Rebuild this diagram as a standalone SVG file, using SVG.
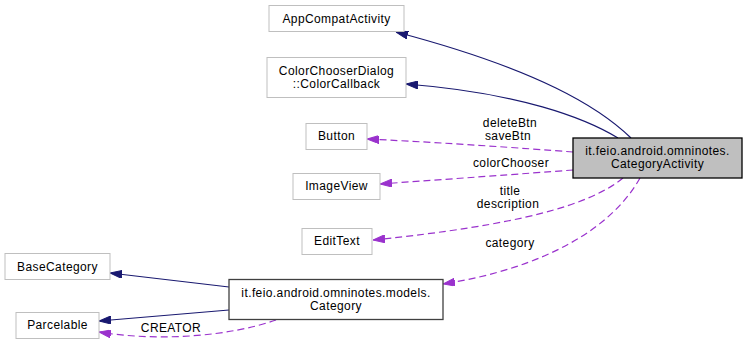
<svg xmlns="http://www.w3.org/2000/svg" width="747" height="344" viewBox="0 0 747 344">
  <style>
    text { font-family: "Liberation Sans", Arial, Helvetica, sans-serif; font-size: 12px; letter-spacing: 0.4px; fill: #000; text-anchor: middle; }
    .ext rect { fill: #fff; stroke: #bfbfbf; stroke-width: 1; }
    .doc rect { fill: #fff; stroke: #404040; stroke-width: 1.3; }
    .main rect { fill: #bfbfbf; stroke: #000; stroke-width: 1.3; }
    .inherit { fill: none; stroke: #191970; stroke-width: 1.2; marker-end: url(#arrowNavy); }
    .usage { fill: none; stroke: #9a32cd; stroke-width: 1.2; stroke-dasharray: 7 4; marker-end: url(#arrowPurple); }
  </style>
  <defs>
    <marker id="arrowNavy" viewBox="0 0 12 8" refX="12" refY="4" markerWidth="12" markerHeight="8" markerUnits="userSpaceOnUse" orient="auto">
      <path d="M0,0 L12,4 L0,8 z" fill="#191970" stroke="#191970" stroke-width="1"/>
    </marker>
    <marker id="arrowPurple" viewBox="0 0 12 8" refX="12" refY="4" markerWidth="12" markerHeight="8" markerUnits="userSpaceOnUse" orient="auto">
      <path d="M0,0 L12,4 L0,8 z" fill="#9a32cd" stroke="#9a32cd" stroke-width="1"/>
    </marker>
  </defs>
  <rect width="747" height="344" fill="#fff"/>

  <!-- connectors -->
  <g id="edges">
    <path class="inherit" d="M631,138 C600,108 540,70 396,32"/>
    <path class="inherit" d="M618,138 C585,118 520,93 406,84"/>
    <path class="usage" d="M573,152 C520,148 450,143 367,139"/>
    <path class="usage" d="M573,170 C520,174 450,179 380,184"/>
    <path class="usage" d="M623,178 C590,205 520,225 373,240"/>
    <path class="usage" d="M640,178 C612,228 545,268 443,284"/>
    <path class="inherit" d="M229,287 L110,273"/>
    <path class="inherit" d="M229,310 L99,321"/>
    <path class="usage" d="M276,320 C230,336 160,342 99,332"/>
    <text x="510" y="126.5">deleteBtn</text>
    <text x="508" y="140">saveBtn</text>
    <text x="511" y="167">colorChooser</text>
    <text x="510" y="194.5">title</text>
    <text x="508" y="208">description</text>
    <text x="510" y="247">category</text>
    <text x="171" y="332">CREATOR</text>
  </g>

  <!-- nodes -->
  <g id="node-AppCompatActivity" class="ext">
    <rect x="269" y="5.5" width="135" height="26"/>
    <text x="336.5" y="22.5">AppCompatActivity</text>
  </g>
  <g id="node-ColorCallback" class="ext">
    <rect x="267" y="57.5" width="139" height="40"/>
    <text x="336.5" y="74.5">ColorChooserDialog</text>
    <text x="336.5" y="88">::ColorCallback</text>
  </g>
  <g id="node-Button" class="ext">
    <rect x="306" y="123.5" width="61" height="26"/>
    <text x="336.5" y="140">Button</text>
  </g>
  <g id="node-ImageView" class="ext">
    <rect x="293" y="173.5" width="87" height="26"/>
    <text x="336.5" y="190">ImageView</text>
  </g>
  <g id="node-EditText" class="ext">
    <rect x="302" y="228.5" width="70" height="26"/>
    <text x="337" y="245">EditText</text>
  </g>
  <g id="node-CategoryActivity" class="main">
    <rect x="573" y="138" width="169" height="40"/>
    <text x="657.5" y="154.5">it.feio.android.omninotes.</text>
    <text x="657.5" y="168">CategoryActivity</text>
  </g>
  <g id="node-BaseCategory" class="ext">
    <rect x="5" y="253.5" width="105" height="26"/>
    <text x="57.5" y="271">BaseCategory</text>
  </g>
  <g id="node-Parcelable" class="ext">
    <rect x="16" y="312.5" width="83" height="26"/>
    <text x="57.5" y="329">Parcelable</text>
  </g>
  <g id="node-Category" class="doc">
    <rect x="229" y="279.5" width="214" height="40"/>
    <text x="336" y="296.5">it.feio.android.omninotes.models.</text>
    <text x="336" y="310">Category</text>
  </g>
</svg>
